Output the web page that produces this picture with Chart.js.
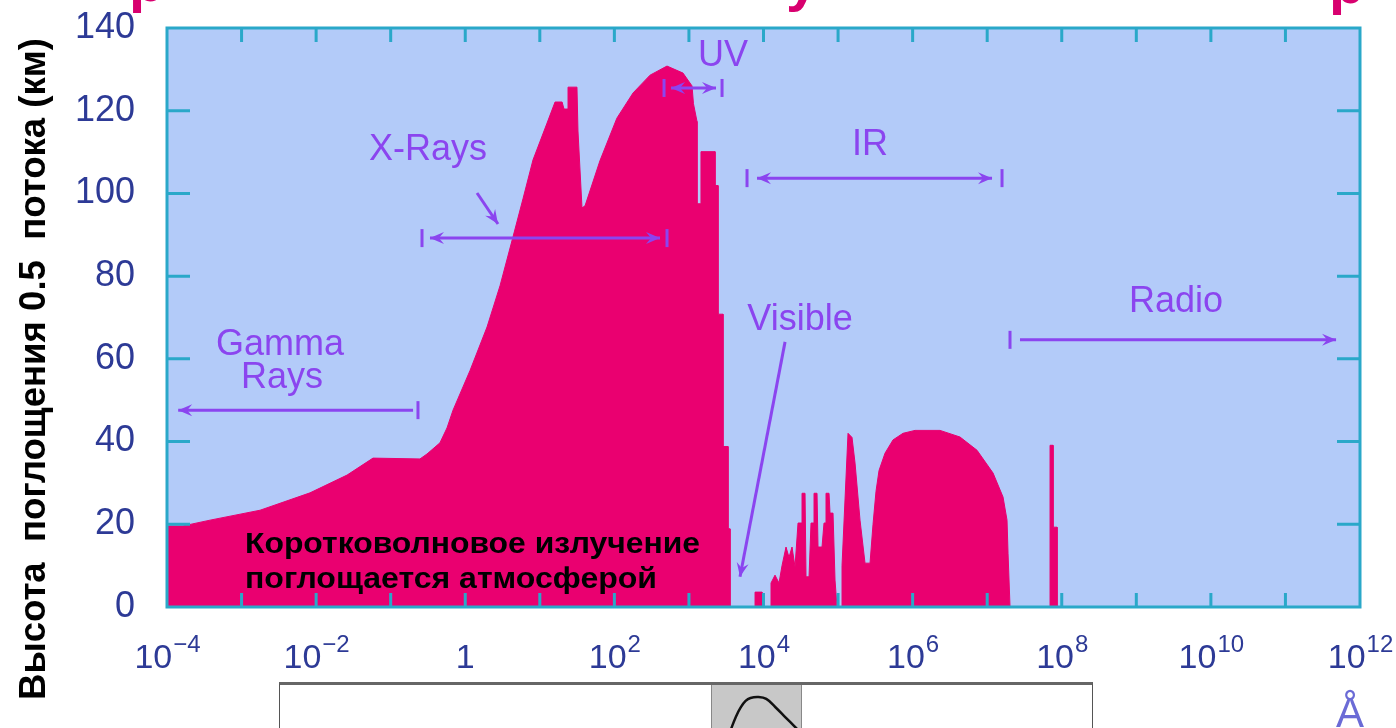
<!DOCTYPE html>
<html>
<head>
<meta charset="utf-8">
<script src="https://cdn.jsdelivr.net/npm/chart.js@4.4.1/dist/chart.umd.min.js"></script>
<style>
  html, body { margin: 0; padding: 0; background: #fff; overflow: hidden; }
  #wrap { position: relative; width: 1396px; height: 728px; overflow: hidden; }
  #chart { position: absolute; left: 0; top: 0; }
  #inset { position: absolute; left: 279px; top: 682px; width: 812px; height: 80px;
           border-top: 3px solid #666; border-left: 1px solid #555; border-right: 1px solid #555; background: #fff; }
  #band { position: absolute; left: 431px; top: 0; width: 89px; height: 80px; background: #c8c8c8;
          border-left: 1px solid #888; border-right: 1px solid #888; overflow: hidden; }
  #eye { position: absolute; left: 0; top: 0; }
</style>
</head>
<body>
<div id="wrap">
  <canvas id="chart" width="1396" height="728"></canvas>
  <div id="inset"><div id="band"><canvas id="eye" width="89" height="130"></canvas></div></div>
</div>
<script>
// absorption height (km) vs wavelength (angstrom)
const shortWaveLambda = [1e-4, 1.64e-4, 3.78e-4, 1.77e-3, 8.28e-3, 2.6e-2, 5.79e-2, 0.247, 0.307, 0.458, 0.569,
  0.686, 1.16, 1.96, 2.93, 4.37, 5.95, 8.1, 12.5, 16.0, 19.9, 21.1, 23.9, 23.9, 31.5, 32.5, 36.8, 40.4, 64, 108, 178, 301, 508, 833,
  1100, 1150, 1283, 1283, 1450, 1450, 2238, 2238, 2455, 2455, 2864, 2864, 3343, 3343, 3557, 3557];
const shortWaveHeight = [19.6, 19.6, 21.0, 23.4, 27.6, 31.9, 36.0, 35.8, 37.0, 39.7, 43.3,
  47.6, 57.2, 67.7, 77.7, 89.5, 98.7, 108.1, 117.0, 122.1, 122.1, 120.4, 120.4, 125.7, 125.7, 115.1, 96.5, 97.0, 107.9, 118.2, 124.3, 128.6, 130.8, 129.1,
  126.0, 121.7, 117.4, 97.5, 97.5, 110.1, 110.1, 101.9, 101.9, 70.8, 70.8, 38.8, 38.8, 18.9, 18.9, 0];

const nearIrLambda = [7700, 7700, 9550, 9550, 12610, 12610, 14270, 16150, 17720, 20040, 21990, 24120, 26470, 29040,
  32860, 32860, 36060, 37180, 40790, 43380, 47600, 47600, 52220, 53860, 60930, 64800, 68930, 68930, 75640, 78010,
  85570, 91040, 96830];
const nearIrHeight = [0, 3.6, 3.6, 0, 0, 5.8, 7.7, 5.8, 10, 14.5, 12, 14.5, 9.7, 20.3,
  20.3, 27.5, 27.5, 7.3, 7.3, 20.3, 20.3, 27.5, 27.5, 14.5, 14.5, 20.3, 20.3, 27.5, 27.5, 22.7,
  22.7, 6.5, 0];

const irLambda = [1.13e5, 1.13e5, 1.36e5, 1.539e5, 1.689e5, 1.97e5, 2.299e5, 2.683e5, 2.943e5, 3.229e5, 3.543e5,
  4.263e5, 5.459e5, 7.433e5, 1.077e6, 2.33e6, 4.322e6, 7.307e6, 1.198e7, 1.631e7, 1.845e7, 1.904e7, 2.025e7];
const irHeight = [0, 10, 42, 41, 34.8, 21, 10.6, 10.6, 20, 28, 33,
  37.2, 40.4, 42, 42.7, 42.7, 41.1, 37.9, 32.4, 26.6, 21, 13, 0];

const radioLambda = [6.966e7, 6.966e7, 7.642e7, 7.642e7, 8.65e7, 8.65e7];
const radioHeight = [0, 39.1, 39.1, 19.3, 19.3, 0];

const tickExponents = [-4, -2, 0, 2, 4, 6, 8, 10, 12];
const tickBase = ['10', '10', '1', '10', '10', '10', '10', '10', '10'];
const tickPower = ['−4', '−2', '', '2', '4', '6', '8', '10', '12'];
const heightTicks = [0, 20, 40, 60, 80, 100, 120, 140];

// band labels: [text, log10 wavelength at centre, km at baseline]
const bandLabels = [
  ['Gamma', -2.484, 60.9], ['Rays', -2.458, 52.9], ['X-Rays', -0.5, 108.1], ['UV', 3.457, 130.8],
  ['IR', 5.429, 109.3], ['Visible', 4.49, 67.0], ['Radio', 9.533, 71.3]
];
// range arrows: [km, from, to, heads, end bars] in log10 wavelength
const bandArrows = [
  [47.6, -0.70, -3.85, 'end', [-0.634]],
  [89.2, -0.473, 2.612, 'both', [-0.58, 2.706]],
  [125.5, 2.76, 3.363, 'both', [2.666, 3.444]],
  [103.7, 3.913, 7.065, 'both', [3.779, 7.199]],
  [64.6, 7.44, 11.679, 'end', [7.306]]
];
// pointer arrows: [from log, from km, to log, to km]
const pointers = [[0.158, 100.1, 0.439, 92.6], [4.289, 64.1, 3.685, 7.3]];

// eye sensitivity inset (nm, relative)
const eyeNm = [408, 430, 457, 479, 501, 523, 559, 594, 634, 679, 723, 754];
const eyeRel = [0.60, 0.70, 0.83, 0.91, 0.965, 0.99, 0.998, 0.982, 0.914, 0.829, 0.745, 0.685];

const yTitle = 'Высота  поглощения 0.5  потока (км)';
const noteLines = ['Коротковолновое излучение', 'поглощается атмосферой'];

const fillColor = '#ea0070';
const frameColor = '#2aa8c9';
const purple = '#8b45ef';
const tickColor = '#2d3a96';
const sans = '"Liberation Sans", Arial, sans-serif';

function pts(l, h) { return l.map((v, i) => ({ x: v, y: h[i] })); }

function head(ctx, x1, y1, x2, y2) {
  const a = Math.atan2(y2 - y1, x2 - x1);
  ctx.beginPath();
  ctx.moveTo(x2, y2);
  ctx.lineTo(x2 - 14 * Math.cos(a) + 6 * Math.sin(a), y2 - 14 * Math.sin(a) - 6 * Math.cos(a));
  ctx.lineTo(x2 - 9 * Math.cos(a), y2 - 9 * Math.sin(a));
  ctx.lineTo(x2 - 14 * Math.cos(a) - 6 * Math.sin(a), y2 - 14 * Math.sin(a) + 6 * Math.cos(a));
  ctx.closePath();
  ctx.fill();
}

function fitText(ctx, text, x, y, width) {
  const w = ctx.measureText(text).width;
  ctx.save();
  ctx.translate(x, y);
  ctx.scale(width / w, 1);
  ctx.fillText(text, 0, 0);
  ctx.restore();
}

const decor = {
  id: 'decor',
  beforeDraw(chart) {
    const { ctx, chartArea: a } = chart;
    ctx.save();
    ctx.fillStyle = '#b3cbf9';
    ctx.fillRect(a.left, a.top, a.right - a.left, a.bottom - a.top);
    ctx.restore();
  },
  afterDatasetsDraw(chart) {
    const { ctx, chartArea: a, scales: { x, y } } = chart;
    const px = e => x.getPixelForValue(Math.pow(10, e));
    ctx.save();

    // inward ticks and frame
    ctx.strokeStyle = frameColor;
    ctx.lineWidth = 3;
    ctx.beginPath();
    for (let e = -3; e <= 11; e++) {
      const p = px(e);
      ctx.moveTo(p, a.top); ctx.lineTo(p, a.top + 14);
      ctx.moveTo(p, a.bottom); ctx.lineTo(p, a.bottom - 14);
    }
    heightTicks.slice(1, -1).forEach(v => {
      const p = y.getPixelForValue(v);
      ctx.moveTo(a.left, p); ctx.lineTo(a.left + 23, p);
      ctx.moveTo(a.right, p); ctx.lineTo(a.right - 23, p);
    });
    ctx.stroke();
    ctx.strokeRect(a.left, a.top, a.right - a.left, a.bottom - a.top);

    // band labels and arrows
    ctx.fillStyle = purple;
    ctx.strokeStyle = purple;
    ctx.font = '36px ' + sans;
    ctx.textAlign = 'center';
    ctx.textBaseline = 'alphabetic';
    bandLabels.forEach(([t, e, h]) => ctx.fillText(t, px(e), y.getPixelForValue(h)));

    ctx.lineWidth = 3;
    bandArrows.forEach(([h, from, to, heads, bars]) => {
      const yy = y.getPixelForValue(h);
      const x1 = px(from), x2 = px(to);
      ctx.beginPath(); ctx.moveTo(x1, yy); ctx.lineTo(x2, yy); ctx.stroke();
      head(ctx, x1, yy, x2, yy);
      if (heads === 'both') head(ctx, x2, yy, x1, yy);
      bars.forEach(b => {
        ctx.beginPath(); ctx.moveTo(px(b), yy - 9); ctx.lineTo(px(b), yy + 9); ctx.stroke();
      });
    });
    pointers.forEach(([e1, h1, e2, h2]) => {
      const x1 = px(e1), y1 = y.getPixelForValue(h1), x2 = px(e2), y2 = y.getPixelForValue(h2);
      ctx.beginPath(); ctx.moveTo(x1, y1); ctx.lineTo(x2, y2); ctx.stroke();
      head(ctx, x1, y1, x2, y2);
    });

    // note inside the plot
    ctx.fillStyle = '#000';
    ctx.textAlign = 'left';
    ctx.font = 'bold 30px ' + sans;
    const nx = px(-2.954);
    fitText(ctx, noteLines[0], nx, y.getPixelForValue(13.1), 455);
    fitText(ctx, noteLines[1], nx, y.getPixelForValue(4.6), 412);
    ctx.restore();
  },
  afterDraw(chart) {
    const { ctx, chartArea: a, scales: { x } } = chart;
    ctx.save();
    // x tick labels as powers of ten
    ctx.fillStyle = tickColor;
    ctx.textAlign = 'left';
    ctx.textBaseline = 'alphabetic';
    tickExponents.forEach((e, i) => {
      ctx.font = '34px ' + sans;
      const wb = ctx.measureText(tickBase[i]).width;
      ctx.font = '24px ' + sans;
      const ws = tickPower[i] ? ctx.measureText(tickPower[i]).width : 0;
      const left = x.getPixelForValue(Math.pow(10, e)) - (wb + ws) / 2;
      ctx.font = '34px ' + sans;
      ctx.fillText(tickBase[i], left, a.bottom + 61);
      ctx.font = '24px ' + sans;
      if (ws) ctx.fillText(tickPower[i], left + wb + 1, a.bottom + 45);
    });

    // axis title
    ctx.fillStyle = '#000';
    ctx.font = 'bold 36px ' + sans;
    ctx.save();
    ctx.translate(45, 700);
    ctx.rotate(-Math.PI / 2);
    fitText(ctx, yTitle, 0, 0, 662);
    ctx.restore();

    // unit
    ctx.fillStyle = '#6b6bd6';
    ctx.font = '42px ' + sans;
    ctx.textAlign = 'center';
    ctx.fillText('Å', 1350, 727);
    // cut-off heading above the picture
    ctx.fillStyle = '#d8006f';
    ctx.font = 'bold 58px ' + sans;
    ctx.textAlign = 'left';
    ctx.fillText('р', 129, 1);
    ctx.fillText('у', 786, 0);
    ctx.fillText('р', 1329, 3);
    ctx.restore();
  }
};

const segments = [
  [shortWaveLambda, shortWaveHeight], [nearIrLambda, nearIrHeight], [irLambda, irHeight], [radioLambda, radioHeight]
];

new Chart(document.getElementById('chart'), {
  type: 'line',
  data: {
    datasets: segments.map(([l, h]) => ({
      data: pts(l, h),
      fill: 'origin',
      backgroundColor: fillColor,
      borderColor: fillColor,
      borderWidth: 1,
      pointRadius: 0,
      tension: 0
    }))
  },
  options: {
    responsive: false,
    animation: false,
    events: [],
    layout: { padding: { top: 28, right: 36, left: 0, bottom: 0 } },
    plugins: { legend: { display: false }, tooltip: { enabled: false } },
    scales: {
      x: {
        type: 'logarithmic',
        min: 1e-4,
        max: 1e12,
        afterBuildTicks: axis => { axis.ticks = tickExponents.map(e => ({ value: Math.pow(10, e) })); },
        afterFit: axis => { axis.height = 121; axis.paddingLeft = 0; axis.paddingRight = 0; },
        grid: { display: false },
        border: { display: false },
        ticks: { display: false }
      },
      y: {
        min: 0,
        max: 140,
        afterBuildTicks: axis => { axis.ticks = heightTicks.map(v => ({ value: v })); },
        afterFit: axis => { axis.width = 167; axis.paddingTop = 0; axis.paddingBottom = 0; },
        grid: { display: false },
        border: { display: false },
        ticks: {
          padding: 24,
          color: tickColor,
          font: { family: sans, size: 36 }
        }
      }
    }
  },
  plugins: [decor]
});

// inset: eye sensitivity over the visible band
new Chart(document.getElementById('eye'), {
  type: 'line',
  data: { datasets: [{ data: pts(eyeNm, eyeRel), borderColor: '#111', borderWidth: 2.5, pointRadius: 0, tension: 0.4, fill: false }] },
  options: {
    responsive: false,
    animation: false,
    events: [],
    layout: { padding: 0 },
    plugins: { legend: { display: false }, tooltip: { enabled: false } },
    scales: {
      x: { type: 'linear', min: 350, max: 750, display: false },
      y: { min: 0, max: 1.1, display: false }
    }
  }
});
</script>
</body>
</html>
